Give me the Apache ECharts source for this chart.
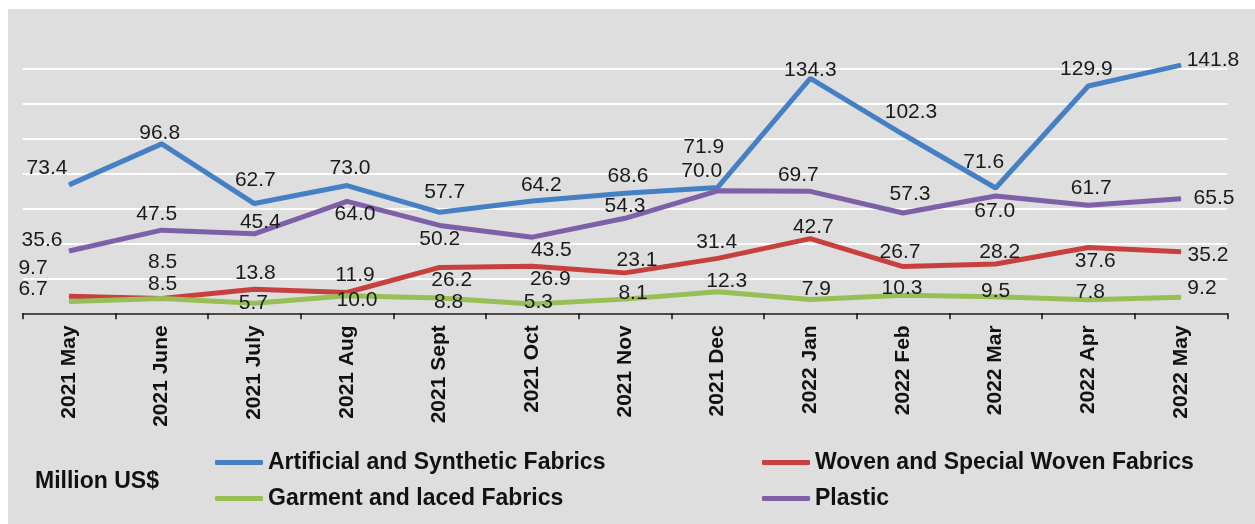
<!DOCTYPE html>
<html>
<head>
<meta charset="utf-8">
<script src="https://cdn.jsdelivr.net/npm/echarts@6/dist/echarts.min.js"></script>
<style>
  html, body { margin: 0; padding: 0; background: #ffffff; }
  #main { position: absolute; left: 8px; top: 9px; width: 1247px; height: 515px; background: #dedede; }
</style>
</head>
<body>
<div id="main"></div>
<script>
// months on the x axis
var months = ['2021 May', '2021 June', '2021 July', '2021 Aug', '2021 Sept', '2021 Oct', '2021 Nov',
  '2021 Dec', '2022 Jan', '2022 Feb', '2022 Mar', '2022 Apr', '2022 May'];

// Million US$
var artificial = [73.4, 96.8, 62.7, 73.0, 57.7, 64.2, 68.6, 71.9, 134.3, 102.3, 71.6, 129.9, 141.8];
var woven = [9.7, 8.5, 13.8, 11.9, 26.2, 26.9, 23.1, 31.4, 42.7, 26.7, 28.2, 37.6, 35.2];
var garment = [6.7, 8.5, 5.7, 10.0, 8.8, 5.3, 8.1, 12.3, 7.9, 10.3, 9.5, 7.8, 9.2];
var plastic = [35.6, 47.5, 45.4, 64.0, 50.2, 43.5, 54.3, 70.0, 69.7, 57.3, 67.0, 61.7, 65.5];

var FONT = '"Liberation Sans", Arial, sans-serif';

// where each value label sits next to its point (pixel shift, like the hand-placed excel labels)
var shifts = {
  blue:   [[-22,-17],[-2,-11],[1,-23],[3,-17],[5,-20],[9,-16],[3,-17],[-14,-40],[0,-8],[8,-22],[-12,-26],[-2,-17],[32,-5]],
  purple: [[-27,-11],[-5,-16],[6,-12],[8,13],[0,14],[19,13],[0,-12],[-16,-20],[-12,-16],[7,-19],[-1,15],[3,-17],[33,0]],
  red:    [[-36,-28],[1,-36],[1,-16],[8,-17],[12,13],[18,13],[12,-13],[-1,-16],[3,-11],[-3,-14],[4,-12],[7,14],[27,4]],
  green:  [[-36,-12],[1,-14],[-1,0],[10,4],[9,4],[6,-2],[8,-6],[9,-11],[6,-10],[-1,-7],[0,-5],[2,-7],[21,-9]]
};

function mkSeries(name, values, color, shift) {
  return {
    name: name,
    type: 'line',
    clip: false,
    symbol: 'circle',
    symbolSize: 1,
    showAllSymbol: true,
    lineStyle: { width: 5, color: color },
    itemStyle: { color: color },
    data: values.map(function (v, i) {
      return { value: v, label: { offset: shift[i] } };
    }),
    label: {
      show: true,
      position: 'inside',
      color: '#1a1a1a',
      fontSize: 21,
      fontFamily: FONT,
      formatter: function (p) { return p.value.toFixed(1); }
    },
    emphasis: { disabled: true }
  };
}

var chart = echarts.init(document.getElementById('main'));

var legendText = { fontSize: 23, fontWeight: 'bold', color: '#111', fontFamily: FONT };

var option = {
  animation: false,
  backgroundColor: '#dedede',
  textStyle: { fontFamily: FONT },
  title: {
    text: 'Million US$',
    left: 27,
    top: 461,
    padding: 0,
    textStyle: legendText
  },
  legend: [
    {
      orient: 'vertical',
      left: 207,
      top: 442,
      padding: 0,
      itemGap: 13,
      itemWidth: 48,
      itemHeight: 5,
      icon: 'roundRect',
      data: ['Artificial and Synthetic Fabrics', 'Garment and laced Fabrics'],
      textStyle: legendText
    },
    {
      orient: 'vertical',
      left: 754,
      top: 442,
      padding: 0,
      itemGap: 13,
      itemWidth: 48,
      itemHeight: 5,
      icon: 'roundRect',
      data: ['Woven and Special Woven Fabrics', 'Plastic'],
      textStyle: legendText
    }
  ],
  grid: { left: 14.7, right: 27.7, top: 59.3, bottom: 210.7 },
  xAxis: {
    type: 'category',
    data: months,
    z: 5,
    axisLine: { show: true, lineStyle: { color: '#111', width: 1.5 } },
    axisTick: { show: true, length: 6, lineStyle: { color: '#111', width: 1.5 } },
    axisLabel: {
      rotate: 90,
      margin: 12,
      interval: 0,
      fontSize: 21,
      fontWeight: 'bold',
      color: '#111',
      fontFamily: FONT
    }
  },
  yAxis: {
    type: 'value',
    min: 0,
    max: 140,
    interval: 20,
    axisLine: { show: false },
    axisTick: { show: false },
    axisLabel: { show: false },
    splitLine: { lineStyle: { color: '#ffffff', width: 2 } }
  },
  series: [
    mkSeries('Artificial and Synthetic Fabrics', artificial, '#4580c4', shifts.blue),
    mkSeries('Plastic', plastic, '#7d60a8', shifts.purple),
    mkSeries('Woven and Special Woven Fabrics', woven, '#c8403e', shifts.red),
    mkSeries('Garment and laced Fabrics', garment, '#98be56', shifts.green)
  ]
};

chart.setOption(option);
</script>
</body>
</html>
